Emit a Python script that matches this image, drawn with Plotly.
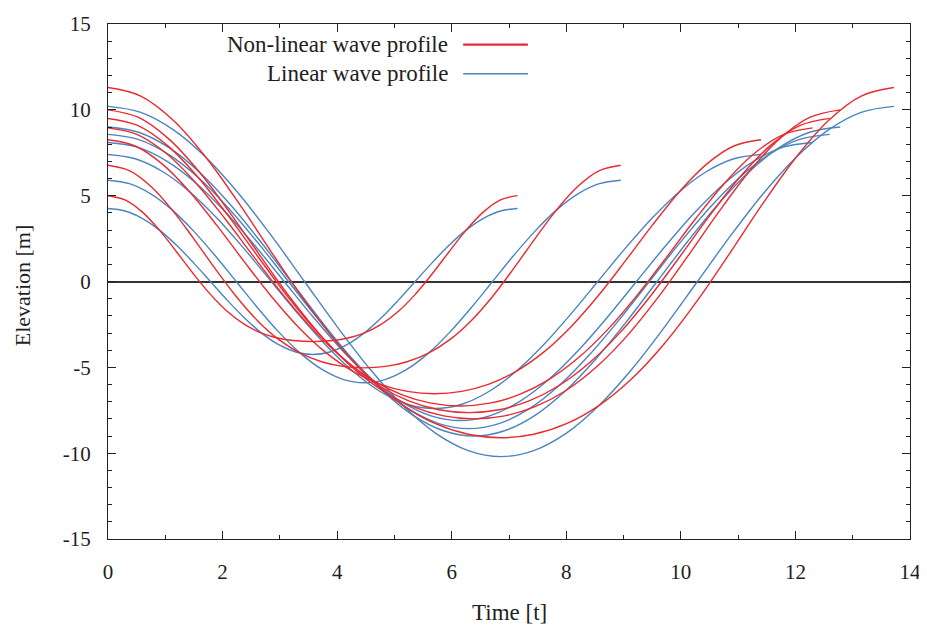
import plotly.graph_objects as go

# Time samples for each wave pair
t1 = [0, 0.572, 1.143, 1.715, 2.287, 2.858, 3.43, 4.002, 4.573, 5.145, 5.717, 6.288, 6.86,
      7.432, 8.003, 8.575, 9.147, 9.718, 10.29, 10.862, 11.433, 12.005, 12.577, 13.148, 13.72]
t2 = [0, 0.533, 1.065, 1.598, 2.13, 2.663, 3.195, 3.728, 4.26, 4.793, 5.325, 5.858, 6.39,
      6.923, 7.455, 7.988, 8.52, 9.053, 9.585, 10.118, 10.65, 11.183, 11.715, 12.248, 12.78]
t3 = [0, 0.525, 1.05, 1.575, 2.1, 2.625, 3.15, 3.675, 4.2, 4.725, 5.25, 5.775, 6.3,
      6.825, 7.35, 7.875, 8.4, 8.925, 9.45, 9.975, 10.5, 11.025, 11.55, 12.075, 12.6]
t4 = [0, 0.513, 1.025, 1.538, 2.05, 2.563, 3.075, 3.588, 4.1, 4.613, 5.125, 5.638, 6.15,
      6.663, 7.175, 7.688, 8.2, 8.713, 9.225, 9.738, 10.25, 10.763, 11.275, 11.788, 12.3]
t5 = [0, 0.475, 0.95, 1.425, 1.9, 2.375, 2.85, 3.325, 3.8, 4.275, 4.75, 5.225, 5.7,
      6.175, 6.65, 7.125, 7.6, 8.075, 8.55, 9.025, 9.5, 9.975, 10.45, 10.925, 11.4]
t6 = [0, 0.373, 0.746, 1.119, 1.492, 1.865, 2.238, 2.61, 2.983, 3.356, 3.729, 4.102, 4.475,
      4.848, 5.221, 5.594, 5.967, 6.34, 6.713, 7.085, 7.458, 7.831, 8.204, 8.577, 8.95]
t7 = [0, 0.298, 0.596, 0.894, 1.192, 1.49, 1.788, 2.085, 2.383, 2.681, 2.979, 3.277, 3.575,
      3.873, 4.171, 4.469, 4.767, 5.065, 5.363, 5.66, 5.958, 6.256, 6.554, 6.852, 7.15]

# Non-linear wave profiles (red)
nl1 = [11.3, 10.805, 9.383, 7.212, 4.55, 1.687, -1.1, -3.593, -5.65, -7.212, -8.283, -8.899, -9.1,
       -8.899, -8.283, -7.212, -5.65, -3.593, -1.1, 1.687, 4.55, 7.212, 9.383, 10.805, 11.3]
nl2 = [10.0, 9.559, 8.294, 6.364, 4.0, 1.463, -1.0, -3.195, -5.0, -6.364, -7.294, -7.827, -8.0,
       -7.827, -7.294, -6.364, -5.0, -3.195, -1.0, 1.463, 4.0, 6.364, 8.294, 9.559, 10.0]
nl3 = [9.5, 9.083, 7.887, 6.06, 3.82, 1.413, -0.93, -3.023, -4.75, -6.06, -6.957, -7.473, -7.64,
       -7.473, -6.957, -6.06, -4.75, -3.023, -0.93, 1.413, 3.82, 6.06, 7.887, 9.083, 9.5]
nl4 = [8.95, 8.56, 7.44, 5.728, 3.625, 1.36, -0.85, -2.832, -4.475, -5.728, -6.59, -7.088, -7.25,
       -7.088, -6.59, -5.728, -4.475, -2.832, -0.85, 1.36, 3.625, 5.728, 7.44, 8.56, 8.95]
nl5 = [8.26, 7.893, 6.838, 5.233, 3.27, 1.17, -0.86, -2.66, -4.13, -5.233, -5.978, -6.403, -6.54,
       -6.403, -5.978, -5.233, -4.13, -2.66, -0.86, 1.17, 3.27, 5.233, 6.838, 7.893, 8.26]
nl6 = [6.77, 6.452, 5.544, 4.172, 2.515, 0.774, -0.87, -2.28, -3.385, -4.172, -4.674, -4.946, -5.03,
       -4.946, -4.674, -4.172, -3.385, -2.28, -0.87, 0.774, 2.515, 4.172, 5.544, 6.452, 6.77]
nl7 = [5.0, 4.755, 4.056, 3.005, 1.75, 0.45, -0.75, -1.75, -2.5, -3.005, -3.306, -3.455, -3.5,
       -3.455, -3.306, -3.005, -2.5, -1.75, -0.75, 0.45, 1.75, 3.005, 4.056, 4.755, 5.0]

# Linear wave profiles (blue)
li1 = [10.2, 9.852, 8.833, 7.212, 5.1, 2.64, 0, -2.64, -5.1, -7.212, -8.833, -9.852, -10.2,
       -9.852, -8.833, -7.212, -5.1, -2.64, 0, 2.64, 5.1, 7.212, 8.833, 9.852, 10.2]
li2 = [9.0, 8.693, 7.794, 6.364, 4.5, 2.329, 0, -2.329, -4.5, -6.364, -7.794, -8.693, -9.0,
       -8.693, -7.794, -6.364, -4.5, -2.329, 0, 2.329, 4.5, 6.364, 7.794, 8.693, 9.0]
li3 = [8.57, 8.278, 7.422, 6.06, 4.285, 2.218, 0, -2.218, -4.285, -6.06, -7.422, -8.278, -8.57,
       -8.278, -7.422, -6.06, -4.285, -2.218, 0, 2.218, 4.285, 6.06, 7.422, 8.278, 8.57]
li4 = [8.1, 7.824, 7.015, 5.728, 4.05, 2.096, 0, -2.096, -4.05, -5.728, -7.015, -7.824, -8.1,
       -7.824, -7.015, -5.728, -4.05, -2.096, 0, 2.096, 4.05, 5.728, 7.015, 7.824, 8.1]
li5 = [7.4, 7.148, 6.408, 5.233, 3.7, 1.915, 0, -1.915, -3.7, -5.233, -6.408, -7.148, -7.4,
       -7.148, -6.408, -5.233, -3.7, -1.915, 0, 1.915, 3.7, 5.233, 6.408, 7.148, 7.4]
li6 = [5.9, 5.699, 5.109, 4.172, 2.95, 1.527, 0, -1.527, -2.95, -4.172, -5.109, -5.699, -5.9,
       -5.699, -5.109, -4.172, -2.95, -1.527, 0, 1.527, 2.95, 4.172, 5.109, 5.699, 5.9]
li7 = [4.25, 4.105, 3.681, 3.005, 2.125, 1.1, 0, -1.1, -2.125, -3.005, -3.681, -4.105, -4.25,
       -4.105, -3.681, -3.005, -2.125, -1.1, 0, 1.1, 2.125, 3.005, 3.681, 4.105, 4.25]

times = [t1, t2, t3, t4, t5, t6, t7]
nonlinear = [nl1, nl2, nl3, nl4, nl5, nl6, nl7]
linear = [li1, li2, li3, li4, li5, li6, li7]

x_ticks = [0, 2, 4, 6, 8, 10, 12, 14]
y_ticks = [-15, -10, -5, 0, 5, 10, 15]

RED = "#ea2a2e"
BLUE = "#4a85bd"
FONT = "Liberation Serif"
TXT = "#1e1e1e"

fig = go.Figure()
for t, y in zip(times, linear):
    fig.add_trace(go.Scatter(x=t, y=y, mode="lines", line=dict(color=BLUE, width=1.4, shape="spline"),
                             showlegend=False, hoverinfo="skip"))
for t, y in zip(times, nonlinear):
    fig.add_trace(go.Scatter(x=t, y=y, mode="lines", line=dict(color=RED, width=1.4, shape="spline"),
                             showlegend=False, hoverinfo="skip"))

axis_common = dict(
    showline=True, linecolor="#222", linewidth=1, mirror="allticks",
    ticks="inside", ticklen=8, tickcolor="#222", tickwidth=1,
    showgrid=False, automargin=False,
    tickfont=dict(family=FONT, size=21, color=TXT),
)

fig.update_xaxes(range=[0, 14], tickvals=x_ticks, ticktext=[str(v) for v in x_ticks],
                 minor=dict(dtick=1, ticks="inside", ticklen=4, tickcolor="#222", showgrid=False),
                 zeroline=False, ticklabelstandoff=14, **axis_common)
fig.update_yaxes(range=[-15, 15], tickvals=y_ticks, ticktext=[str(v) for v in y_ticks],
                 minor=dict(dtick=1, ticks="inside", ticklen=4, tickcolor="#222", showgrid=False),
                 zeroline=True, zerolinecolor="#333", zerolinewidth=1.5, ticklabelstandoff=12,
                 **axis_common)

# axis titles
fig.add_annotation(x=0.5, y=-0.142, xref="paper", yref="paper", text="Time [t]", showarrow=False,
                   xanchor="center", yanchor="middle", font=dict(family=FONT, size=23, color=TXT))
fig.add_annotation(x=-0.107, y=0.493, xref="paper", yref="paper", text="Elevation [m]", showarrow=False,
                   textangle=-90, xanchor="center", yanchor="middle", font=dict(family=FONT, size=22, color=TXT))

# gnuplot-style key: text on the left, sample line on the right
legend_rows = [("Non-linear wave profile", RED, 13.8, 2.2), ("Linear wave profile", BLUE, 12.1, 1.4)]
for label, col, yy, w in legend_rows:
    fig.add_annotation(x=5.97, y=yy, xref="x", yref="y", text=label, showarrow=False,
                       xanchor="right", yanchor="middle",
                       font=dict(family=FONT, size=23, color=TXT))
    fig.add_shape(type="line", x0=6.2, x1=7.33, y0=yy, y1=yy, xref="x", yref="y",
                  line=dict(color=col, width=w))

# the page body adds an 8px offset, so the figure is sized to fit the 927x628 window
fig.update_layout(
    width=919, height=620,
    margin=dict(l=100, r=17, t=16, b=89),
    paper_bgcolor="white", plot_bgcolor="white",
    showlegend=False,
)

fig.write_html("out.html")
